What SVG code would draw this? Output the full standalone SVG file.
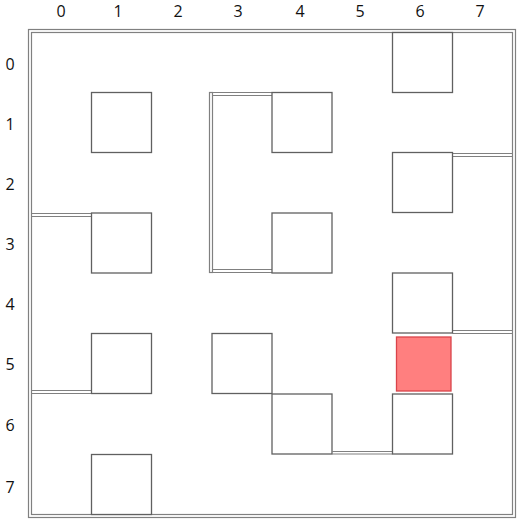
<svg xmlns="http://www.w3.org/2000/svg" width="520" height="522" viewBox="0 0 520 522">
<style>
.lbl{font-family:"Open Sans","Liberation Sans",sans-serif;font-size:16px;fill:#111;text-anchor:middle}
.box{fill:#fff;stroke:#606060;stroke-width:1.3}
.wall{fill:none;stroke:#808080;stroke-width:1.2}
.goal{fill:#ff7f7f;stroke:#d9444a;stroke-width:1.3}
</style>
<rect width="520" height="522" fill="#fff"/>
<g id="labels">
<text class="lbl" x="61" y="17">0</text>
<text class="lbl" x="118" y="17">1</text>
<text class="lbl" x="178" y="17">2</text>
<text class="lbl" x="238" y="17">3</text>
<text class="lbl" x="300" y="17">4</text>
<text class="lbl" x="360" y="17">5</text>
<text class="lbl" x="420" y="17">6</text>
<text class="lbl" x="480" y="17">7</text>
<text class="lbl" x="10" y="70">0</text>
<text class="lbl" x="10" y="130">1</text>
<text class="lbl" x="10" y="190">2</text>
<text class="lbl" x="10" y="250">3</text>
<text class="lbl" x="10" y="310">4</text>
<text class="lbl" x="10" y="370">5</text>
<text class="lbl" x="10" y="431">6</text>
<text class="lbl" x="10" y="493">7</text>
</g>
<g id="frame">
<rect class="wall" x="28.5" y="29.5" width="487" height="488"/>
<rect class="wall" x="31.5" y="32.5" width="481" height="482"/>
</g>
<g id="walls">
<rect class="wall" x="209.5" y="92.5" width="3" height="180"/>
<path class="wall" d="M209.5 92.5 H272 M212.5 95.5 H272 M212.5 269.5 H272 M209.5 272.5 H272"/>
<path class="wall" d="M31.5 213.5 H91.5 M31.5 216.5 H91.5"/>
<path class="wall" d="M31.5 390.5 H91.5 M31.5 393.5 H91.5"/>
<path class="wall" d="M452.5 153.5 H512.5 M452.5 156.5 H512.5"/>
<path class="wall" d="M452.5 330.5 H512.5 M452.5 333.5 H512.5"/>
<path class="wall" d="M332.5 451.5 H392.5 M332.5 454 H392.5"/>
</g>
<g id="boxes">
<rect id="b60" class="box" x="392.5" y="32.5" width="60" height="60"/>
<rect id="b11" class="box" x="91.5" y="92.5" width="60" height="60"/>
<rect id="b41" class="box" x="272" y="92.5" width="60" height="60"/>
<rect id="b62" class="box" x="392.5" y="152.5" width="60" height="60"/>
<rect id="b13" class="box" x="91.5" y="213" width="60" height="60"/>
<rect id="b43" class="box" x="272" y="213" width="60" height="60"/>
<rect id="b64" class="box" x="392.5" y="273" width="60" height="60"/>
<rect id="b15" class="box" x="91.5" y="333.5" width="60" height="60"/>
<rect id="b35" class="box" x="212" y="333.5" width="60" height="60"/>
<rect id="b46" class="box" x="272" y="394" width="60" height="60"/>
<rect id="b66" class="box" x="392.5" y="394" width="60" height="60"/>
<rect id="b17" class="box" x="91.5" y="454.5" width="60" height="60"/>
</g>
<g id="goal">
<rect class="goal" x="396.5" y="337" width="54.5" height="54"/>
</g>
</svg>
